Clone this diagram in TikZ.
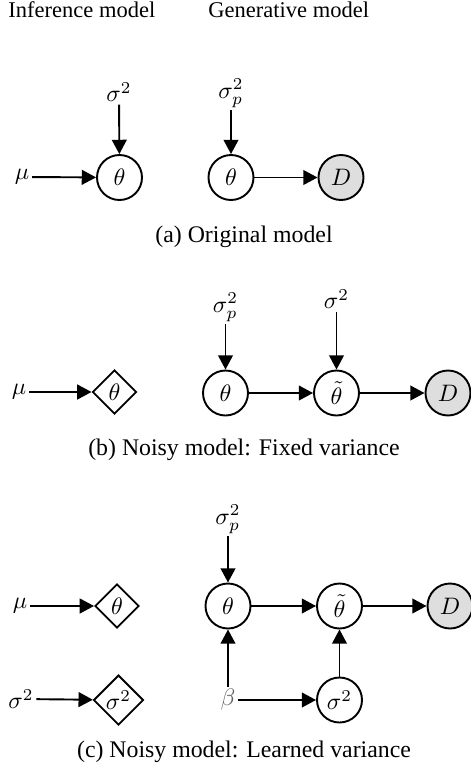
\documentclass[tikz,border=0pt]{standalone}
\usepackage{fontspec}
\setmainfont{Liberation Serif}
\usetikzlibrary{shapes.geometric,arrows.meta}
\begin{document}
\begin{tikzpicture}[x=0.42pt,y=-0.42pt,
  var/.style={circle,draw,line width=0.8pt,minimum size=18.9pt,inner sep=0pt},
  obs/.style={var,fill=black!13},
  det/.style={diamond,draw,line width=0.8pt,minimum size=18.5pt,inner sep=0pt,aspect=1},
  lab/.style={inner sep=1pt},
  edge/.style={line width=0.8pt,-{Triangle[length=6pt,width=6.2pt]}},
  captxt/.style={anchor=base,font=\fontsize{10pt}{12pt}\selectfont},
  titletxt/.style={anchor=base west,font=\fontsize{9.45pt}{11pt}\selectfont}]
\useasboundingbox (0,0) rectangle (471,765);
% titles
\node[titletxt,inner sep=0pt] (tinf) at (8,17) {Inference model};
\node[titletxt,inner sep=0pt] (tgen) at (208,17) {Generative model};
% panel a
\node[lab] (asig) at (119,92) {$\sigma^2$};
\node[var] (ath) at (119.5,177.5) {$\theta$};
\node[lab] (amu) at (22,177) {$\mu$};
\node[lab] (asp) at (231,93) {$\sigma_p^2$};
\node[var] (agth) at (231,177.5) {$\theta$};
\node[obs] (aD) at (341,177.5) {$D$};
\draw[edge] (asig) -- (ath);
\draw[edge] (amu) -- (ath);
\draw[edge] (asp) -- (agth);
\draw[edge] (agth) -- (aD);
\node[captxt] (capa) at (244,242) {(a) Original model};
% panel b
\node[lab] (bmu) at (19,392) {$\mu$};
\node[det] (bdth) at (114.5,392) {$\theta$};
\node[lab] (bsp) at (225.5,307) {$\sigma_p^2$};
\node[var] (bth) at (225.5,393) {$\theta$};
\node[lab] (bsig) at (336.5,299) {$\sigma^2$};
\node[var] (btt) at (336.5,393) {$\tilde\theta$};
\node[obs] (bD) at (448,393) {$D$};
\draw[edge] (bmu) -- (bdth);
\draw[edge] (bsp) -- (bth);
\draw[edge] (bsig) -- (btt);
\draw[edge] (bth) -- (btt);
\draw[edge] (btt) -- (bD);
\node[captxt] (capb) at (244,455) {(b) Noisy model: Fixed variance};
% panel c
\node[lab] (cmu) at (20,606) {$\mu$};
\node[det] (cdth) at (117,606) {$\theta$};
\node[lab] (csl) at (21,699) {$\sigma^2$};
\node[det,minimum size=21pt] (cds) at (118.5,700) {$\sigma^2$};
\node[lab] (csp) at (228,519) {$\sigma_p^2$};
\node[var] (cth) at (228,606) {$\theta$};
\node[var] (ctt) at (339.5,606) {$\tilde\theta$};
\node[obs] (cD) at (450,606) {$D$};
\node[lab,text=black!62] (cbeta) at (228,700) {$\beta$};
\node[var] (cs2) at (339.5,700) {$\sigma^2$};
\draw[edge] (cmu) -- (cdth);
\draw[edge] (csl) -- (cds);
\draw[edge] (csp) -- (cth);
\draw[edge] (cth) -- (ctt);
\draw[edge] (ctt) -- (cD);
\draw[edge] (cbeta) -- (cth);
\draw[edge] (cbeta) -- (cs2);
\draw[edge] (cs2) -- (ctt);
\node[captxt] (capc) at (244,757) {(c) Noisy model: Learned variance};
\end{tikzpicture}
\end{document}
